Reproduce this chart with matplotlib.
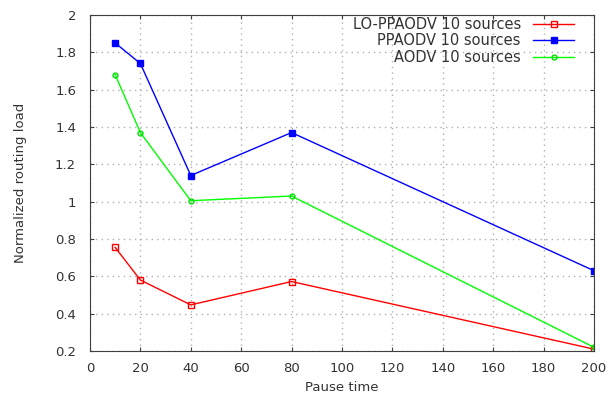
import matplotlib
matplotlib.use('Agg')
import matplotlib.pyplot as plt

# pause time values
pause = [10, 20, 40, 80, 200]
lo_ppaodv = [0.755, 0.58, 0.447, 0.572, 0.21]
ppaodv = [1.85, 1.74, 1.14, 1.37, 0.63]
aodv = [1.68, 1.37, 1.005, 1.03, 0.22]

plt.rcParams['font.family'] = 'DejaVu Sans'
plt.rcParams['font.size'] = 9.5

fig = plt.figure(figsize=(6.15, 4.01), dpi=100)
ax = fig.add_axes([0.1463, 0.1247, 0.8195, 0.838])

ax.plot(pause, lo_ppaodv, color='#ff0000', lw=1, marker='s', ms=5,
        mfc='none', mec='#ff0000', mew=1, label='LO-PPAODV 10 sources')
ax.plot(pause, ppaodv, color='#0000ff', lw=1, marker='s', ms=5,
        mfc='#0000ff', mec='#0000ff', label='PPAODV 10 sources')
ax.plot(pause, aodv, color='#00ff00', lw=1, marker='o', ms=3.5,
        mfc='none', mec='#00dd00', mew=1, label='AODV 10 sources')

ax.set_xlim(0, 200)
ax.set_ylim(0.2, 2)
ax.set_xticks(range(0, 201, 20))
ax.set_yticks([0.2, 0.4, 0.6, 0.8, 1, 1.2, 1.4, 1.6, 1.8, 2])
ax.set_yticklabels(['0.2', '0.4', '0.6', '0.8', '1', '1.2', '1.4', '1.6', '1.8', '2'])
ax.tick_params(direction='in', top=True, right=True, length=3, colors='#404040',
               labelcolor='#333333')
ax.tick_params(axis='x', pad=8)
ax.tick_params(axis='y', pad=10)
for s in ax.spines.values():
    s.set_color('#404040')
ax.grid(True, color='#b0b0b0', linestyle=(0, (1, 3)), lw=1)

ax.set_xlabel('Pause time', color='#333333', labelpad=4)
ax.set_ylabel('Normalized routing load', color='#333333', labelpad=20)

leg = ax.legend(loc='upper right', frameon=False, markerfirst=False,
                handlelength=2.8, handletextpad=0.85, borderaxespad=0,
                labelspacing=0.1, fontsize=10.5,
                bbox_to_anchor=(0.972, 1.012))
for t in leg.get_texts():
    t.set_color('#333333')

plt.savefig('out.png', dpi=100)
